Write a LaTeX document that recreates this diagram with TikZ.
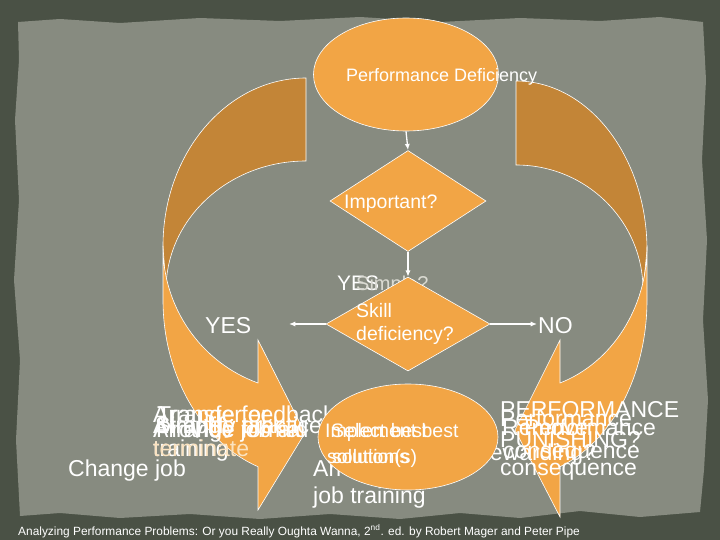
\documentclass[tikz,border=0pt]{standalone}
\usepackage{fontspec}
\setmainfont{Liberation Sans}
\usetikzlibrary{positioning, arrows.meta, shapes.geometric}
\definecolor{frameGray}{HTML}{4A5145}
\definecolor{paperGray}{HTML}{878B80}
\definecolor{lightOrange}{HTML}{F2A545}
\definecolor{darkOrange}{HTML}{C38537}
\definecolor{paleText}{HTML}{FBE3C0}
\definecolor{fadedText}{HTML}{DADAD2}

\begin{document}
\begin{tikzpicture}[
        x=1pt, y=-1pt,
        termNode/.style={draw=white, line width=0.6pt, fill=lightOrange, ellipse, inner sep=0pt},
        decisionNode/.style={draw=white, line width=0.6pt, fill=lightOrange, diamond, inner sep=0pt},
        backBand/.style={draw=white, line width=0.6pt, fill=darkOrange},
        frontBand/.style={draw=white, line width=0.6pt, fill=lightOrange},
        flowArrow/.style={-{Latex[length=2.2mm, width=1.8mm]}, white, line width=1.3pt},
        textNode/.style={text=white, inner sep=0pt, anchor=base west, font=\fontsize{23}{27}\selectfont},
        midText/.style={textNode, font=\fontsize{19.5}{23}\selectfont}
    ]
        \useasboundingbox (0,0) rectangle (720,540);
        % Slide background
        \fill[frameGray] (0,0) rectangle (720,540);
        \fill[paperGray] (18,22) -- (60,19) -- (120,23) -- (200,18) -- (280,21) -- (360,17) -- (440,22)
            -- (520,18) -- (600,21) -- (660,17) -- (703,22) -- (706,80) -- (702,160) -- (707,240)
            -- (703,320) -- (708,400) -- (704,470) -- (700,512) -- (640,517) -- (580,511) -- (520,518)
            -- (460,513) -- (400,519) -- (330,514) -- (260,519) -- (190,514) -- (120,518) -- (60,513)
            -- (20,516) -- (16,440) -- (20,360) -- (14,280) -- (19,200) -- (15,120) -- (19,60) -- cycle;

        % Curved arrows, back parts
        \draw[backBand] (306,78) arc[start angle=270, end angle=180, x radius=143, y radius=168]
            -- (166,290) arc[start angle=180, end angle=270, x radius=140, y radius=129] -- cycle;
        \draw[backBand] (516,81) arc[start angle=270, end angle=360, x radius=131, y radius=169]
            -- (643,290) arc[start angle=0, end angle=-90, x radius=127, y radius=125] -- cycle;

        % Curved arrows, front parts with heads
        \draw[frontBand] (163,246) -- (163,300)
            arc[start angle=180, end angle=109.6, x radius=143, y radius=177]
            -- (258,510) -- (305,433) -- (258,340) -- (258,383)
            arc[start angle=109.6, end angle=180, x radius=143, y radius=145] -- cycle;
        \draw[frontBand] (647,250) -- (647,300)
            arc[start angle=0, end angle=70.4, x radius=131, y radius=177]
            -- (560,517) -- (515,430) -- (560,340) -- (560,383)
            arc[start angle=70.4, end angle=0, x radius=131, y radius=145] -- cycle;

        % Flow nodes
        \node[termNode, minimum width=185pt, minimum height=113pt] (perf) at (406,74.5) {};
        \node[decisionNode, minimum width=156pt, minimum height=101pt] (important) at (408,201) {};
        \node[textNode, font=\fontsize{18}{21}\selectfont] (perfText) at (346,81.5) {Performance Deficiency};
        \node[midText] (impText) at (344,209) {Important?};

        \node[textNode, font=\fontsize{21}{25}\selectfont] (yesTop) at (337,290) {YES};
        \node[textNode, text=fadedText, font=\fontsize{20}{24}\selectfont] (simpleTop) at (356,290) {Simple?};

        \node[decisionNode, minimum width=164pt, minimum height=94pt] (skill) at (408,324) {};
        \node[midText] (skillText1) at (356,317) {Skill};
        \node[midText] (skillText2) at (356,340) {deficiency?};

        % Connectors
        \coordinate (yesEnd) at (289,324);
        \coordinate (noEnd) at (537,324);
        \draw[flowArrow] (perf.south) -- (important.north);
        \draw[flowArrow] (important.south) -- (skill.north);
        \draw[flowArrow] (skill.west) -- (yesEnd);
        \draw[flowArrow] (skill.east) -- (noEnd);

        \node[textNode] (yesLeft) at (205,333) {YES};
        \node[textNode] (noRight) at (538,333) {NO};

        % Solutions, left side
        \node[textNode] (leftA) at (153,422) {Arrange feedback};
        \node[textNode] (leftB) at (157,422) {Transfer or};
        \node[textNode] (leftC) at (153,433) {Arrange practice};
        \node[textNode] (leftD) at (155,433) {Simplify task};
        \node[textNode] (leftE) at (153,437) {Arrange formal};
        \node[textNode] (leftF) at (156,437) {Provide job aid};
        \node[textNode] (leftG) at (153,456) {training};
        \node[textNode, text=paleText] (leftH) at (153,456) {terminate};
        \node[textNode] (changeJob) at (68,476) {Change job};

        % Solutions, right side
        \node[textNode] (rightA) at (500,417) {PERFORMANCE};
        \node[textNode] (rightB) at (500,426) {Performance};
        \node[textNode] (rightC) at (524,435) {Performance};
        \node[textNode] (rightD) at (502,435) {Remove};
        \node[textNode] (rightE) at (500,447) {PUNISHING?};
        \node[textNode] (rightF) at (503,458) {consequence};
        \node[textNode] (rightG) at (482,460) {rewarding?};
        \node[textNode] (rightH) at (500,475) {consequence};

        % Middle
        \node[textNode] (ojtA) at (313,476) {Arrange on-the-};
        \node[textNode] (ojtB) at (313,503) {job training};

        \node[termNode, minimum width=180pt, minimum height=106pt] (implement) at (408,437) {};
        \node[textNode, font=\fontsize{19.5}{23}\selectfont] (implText1) at (325,437) {Implement best};
        \node[textNode, font=\fontsize{19.5}{23}\selectfont] (selectText1) at (331,437) {Select best};
        \node[textNode, font=\fontsize{19.5}{23}\selectfont] (implText2) at (327,463) {solution(s)};
        \node[textNode, font=\fontsize{19.5}{23}\selectfont] (selectText2) at (332,463) {solutions};

        % Source line
        \node[textNode, font=\fontsize{11.9}{14}\selectfont] (source) at (18,535)
            {Analyzing Performance Problems: Or you Really Oughta Wanna, 2\textsuperscript{nd}. ed. by Robert Mager and Peter Pipe};
    \end{tikzpicture}
\end{document}
